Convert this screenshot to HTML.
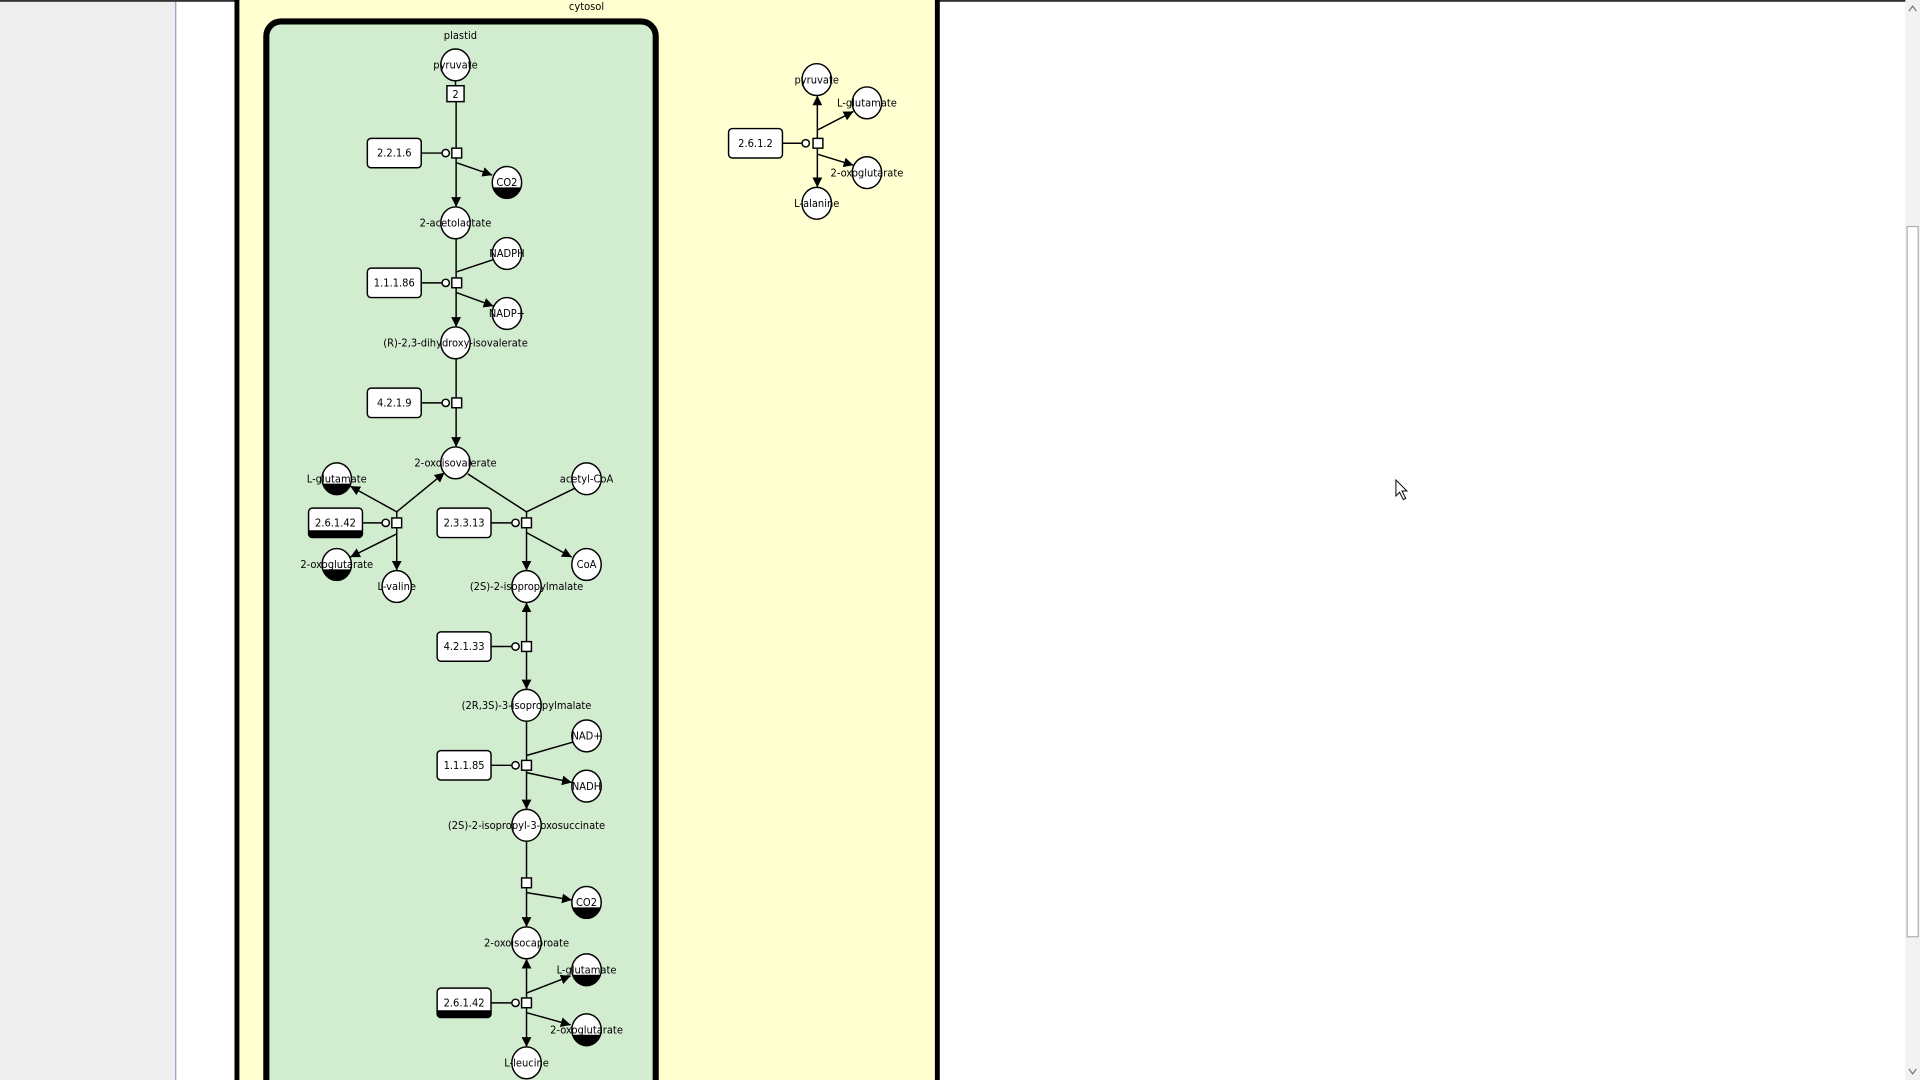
<!DOCTYPE html>
<html><head><meta charset="utf-8"><style>
html,body{margin:0;padding:0;width:1920px;height:1080px;overflow:hidden;background:#fff}
svg{display:block}
text{font-family:"DejaVu Sans Condensed","DejaVu Sans","Liberation Sans",sans-serif;font-size:9px;fill:#000}
</style></head><body>
<svg width="1920" height="1080" viewBox="0 0 1568 882" preserveAspectRatio="none" xmlns="http://www.w3.org/2000/svg">
<defs>
<marker id="a" viewBox="0 0 10 10" refX="10" refY="5" markerWidth="8" markerHeight="8" markerUnits="userSpaceOnUse" orient="auto"><path d="M0,0 L10,5 L0,10 Z" fill="#000"/></marker>
</defs>
<rect x="0" y="0" width="143" height="882" fill="#eeeeee"/>
<line x1="143.5" y1="0" x2="143.5" y2="882" stroke="#8aa0c0" stroke-width="1"/>
<rect x="0" y="0" width="1568" height="1.5" fill="#333"/>
<!-- scrollbar -->
<rect x="1556" y="0" width="12" height="882" fill="#f2f2f2"/>
<rect x="1557.5" y="185" width="9" height="580" fill="#fff" stroke="#b0b0b0" stroke-width="1"/>
<path d="M1559,9 L1562,5 L1565,9" fill="none" stroke="#777"/>
<path d="M1559,873 L1562,877 L1565,873" fill="none" stroke="#777"/>
<!-- cytosol -->
<rect x="193.5" y="-10" width="572" height="900" fill="#ffffd2" stroke="#000" stroke-width="4"/>
<text x="479" y="8" text-anchor="middle">cytosol</text>
<!-- plastid -->
<rect x="217.5" y="17.5" width="318" height="880" rx="12" fill="#d2ecd0" stroke="#000" stroke-width="5"/>
<text x="376" y="32" text-anchor="middle">plastid</text>

<g stroke="#000" stroke-width="1.2" fill="none">
<!-- R1 -->
<line x1="372" y1="66" x2="372" y2="70"/>
<line x1="372.5" y1="83" x2="372.5" y2="121"/>
<line x1="372.5" y1="129" x2="372.5" y2="169" marker-end="url(#a)"/>
<line x1="373" y1="133" x2="402" y2="143" marker-end="url(#a)"/>
<line x1="344" y1="125" x2="361" y2="125"/>
<!-- R2 -->
<line x1="372.5" y1="195" x2="372.5" y2="227"/>
<line x1="373" y1="222" x2="403" y2="212"/>
<line x1="372.5" y1="235" x2="372.5" y2="267" marker-end="url(#a)"/>
<line x1="373" y1="239" x2="403" y2="250" marker-end="url(#a)"/>
<line x1="344" y1="231" x2="361" y2="231"/>
<!-- R3 -->
<line x1="372.5" y1="293" x2="372.5" y2="325"/>
<line x1="372.5" y1="333" x2="372.5" y2="365" marker-end="url(#a)"/>
<line x1="344" y1="329" x2="361" y2="329"/>
<!-- R4 -->
<line x1="324" y1="423" x2="324" y2="418"/>
<line x1="324" y1="418" x2="363" y2="386" marker-end="url(#a)"/>
<line x1="324" y1="418" x2="286" y2="397" marker-end="url(#a)"/>
<line x1="324" y1="431" x2="324" y2="466" marker-end="url(#a)"/>
<line x1="324" y1="436" x2="286" y2="455" marker-end="url(#a)"/>
<line x1="296" y1="427" x2="312" y2="427"/>
<!-- R5 -->
<line x1="382" y1="387" x2="430" y2="418"/>
<line x1="469" y1="399" x2="430" y2="418"/>
<line x1="430" y1="418" x2="430" y2="423"/>
<line x1="430" y1="431" x2="430" y2="466" marker-end="url(#a)"/>
<line x1="430" y1="435" x2="467" y2="455" marker-end="url(#a)"/>
<line x1="401" y1="427" x2="418" y2="427"/>
<!-- R6 -->
<line x1="430" y1="524" x2="430" y2="492" marker-end="url(#a)"/>
<line x1="430" y1="532" x2="430" y2="563" marker-end="url(#a)"/>
<line x1="401" y1="528" x2="418" y2="528"/>
<!-- R7 -->
<line x1="430" y1="589" x2="430" y2="621"/>
<line x1="430" y1="617" x2="468" y2="606"/>
<line x1="430" y1="629" x2="430" y2="661" marker-end="url(#a)"/>
<line x1="430" y1="631" x2="467" y2="639" marker-end="url(#a)"/>
<line x1="401" y1="625" x2="418" y2="625"/>
<!-- R8 -->
<line x1="430" y1="687" x2="430" y2="717"/>
<line x1="430" y1="725" x2="430" y2="757" marker-end="url(#a)"/>
<line x1="430" y1="729" x2="467" y2="735" marker-end="url(#a)"/>
<!-- R9 -->
<line x1="430" y1="815" x2="430" y2="783" marker-end="url(#a)"/>
<line x1="430" y1="811" x2="466" y2="797" marker-end="url(#a)"/>
<line x1="430" y1="823" x2="430" y2="855" marker-end="url(#a)"/>
<line x1="430" y1="827" x2="466" y2="837" marker-end="url(#a)"/>
<line x1="401" y1="819" x2="418" y2="819"/>
<!-- cytosol R -->
<line x1="667.5" y1="113" x2="667.5" y2="78" marker-end="url(#a)"/>
<line x1="668" y1="106" x2="697" y2="91" marker-end="url(#a)"/>
<line x1="667.5" y1="121" x2="667.5" y2="153" marker-end="url(#a)"/>
<line x1="668" y1="126" x2="697" y2="135" marker-end="url(#a)"/>
<line x1="639" y1="117" x2="655" y2="117"/>
</g>

<!-- small circles and squares -->
<g stroke="#000" stroke-width="1.2" fill="#fff">
<circle cx="364" cy="125" r="3"/><rect x="369" y="121" width="8" height="8"/>
<circle cx="364" cy="231" r="3"/><rect x="369" y="227" width="8" height="8"/>
<circle cx="364" cy="329" r="3"/><rect x="369" y="325" width="8" height="8"/>
<circle cx="315" cy="427" r="3"/><rect x="320" y="423" width="8" height="8"/>
<circle cx="421" cy="427" r="3"/><rect x="426" y="423" width="8" height="8"/>
<circle cx="421" cy="528" r="3"/><rect x="426" y="524" width="8" height="8"/>
<circle cx="421" cy="625" r="3"/><rect x="426" y="621" width="8" height="8"/>
<rect x="426" y="717" width="8" height="8"/>
<circle cx="421" cy="819" r="3"/><rect x="426" y="815" width="8" height="8"/>
<circle cx="658" cy="117" r="3"/><rect x="664" y="113" width="8" height="8"/>
<rect x="365" y="70" width="14" height="13"/>
</g>
<text x="372" y="80" text-anchor="middle">2</text>

<!-- enzyme boxes -->
<g stroke="#000" stroke-width="1.2" fill="#fff">
<rect x="300" y="113" width="44" height="24" rx="3"/>
<rect x="300" y="219" width="44" height="24" rx="3"/>
<rect x="300" y="317" width="44" height="24" rx="3"/>
<rect x="252" y="415" width="44" height="24" rx="3"/>
<rect x="357" y="415" width="44" height="24" rx="3"/>
<rect x="357" y="516" width="44" height="24" rx="3"/>
<rect x="357" y="613" width="44" height="24" rx="3"/>
<rect x="357" y="807" width="44" height="24" rx="3"/>
<rect x="595" y="105" width="44" height="24" rx="3"/>
</g>
<path d="M252,433 H296 V436 Q296,439 293,439 H255 Q252,439 252,436 Z" fill="#000"/>
<path d="M357,825 H401 V828 Q401,831 398,831 H360 Q357,831 357,828 Z" fill="#000"/>
<g text-anchor="middle">
<text x="322" y="128">2.2.1.6</text>
<text x="322" y="234">1.1.1.86</text>
<text x="322" y="332">4.2.1.9</text>
<text x="274" y="430">2.6.1.42</text>
<text x="379" y="430">2.3.3.13</text>
<text x="379" y="531">4.2.1.33</text>
<text x="379" y="628">1.1.1.85</text>
<text x="379" y="822">2.6.1.42</text>
<text x="617" y="120">2.6.1.2</text>
</g>

<!-- metabolites -->
<g stroke="#000" stroke-width="1.2" fill="#fff">
<ellipse cx="372" cy="53" rx="12" ry="13"/>
<ellipse cx="414" cy="149" rx="12" ry="13"/>
<ellipse cx="372" cy="182" rx="12" ry="13"/>
<ellipse cx="414" cy="207" rx="12" ry="13"/>
<ellipse cx="414" cy="256" rx="12" ry="13"/>
<ellipse cx="372" cy="280" rx="12" ry="13"/>
<ellipse cx="372" cy="378" rx="12" ry="13"/>
<ellipse cx="275" cy="391" rx="12" ry="13"/>
<ellipse cx="275" cy="461" rx="12" ry="13"/>
<ellipse cx="324" cy="479" rx="12" ry="13"/>
<ellipse cx="479" cy="391" rx="12" ry="13"/>
<ellipse cx="479" cy="461" rx="12" ry="13"/>
<ellipse cx="430" cy="479" rx="12" ry="13"/>
<ellipse cx="430" cy="576" rx="12" ry="13"/>
<ellipse cx="479" cy="601" rx="12" ry="13"/>
<ellipse cx="479" cy="642" rx="12" ry="13"/>
<ellipse cx="430" cy="674" rx="12" ry="13"/>
<ellipse cx="479" cy="737" rx="12" ry="13"/>
<ellipse cx="430" cy="770" rx="12" ry="13"/>
<ellipse cx="479" cy="792" rx="12" ry="13"/>
<ellipse cx="479" cy="841" rx="12" ry="13"/>
<ellipse cx="430" cy="868" rx="12" ry="13"/>
<ellipse cx="667" cy="65" rx="12" ry="13"/>
<ellipse cx="708" cy="84" rx="12" ry="13"/>
<ellipse cx="708" cy="141" rx="12" ry="13"/>
<ellipse cx="667" cy="166" rx="12" ry="13"/>
</g>
<!-- black halves -->
<g fill="#000">
<path d="M402.7,153 A12,13 0 0 0 425.3,153 Z"/>
<path d="M263.7,395 A12,13 0 0 0 286.3,395 Z"/>
<path d="M263.7,465 A12,13 0 0 0 286.3,465 Z"/>
<path d="M467.7,741 A12,13 0 0 0 490.3,741 Z"/>
<path d="M467.7,796 A12,13 0 0 0 490.3,796 Z"/>
<path d="M467.7,845 A12,13 0 0 0 490.3,845 Z"/>
</g>
<g text-anchor="middle">
<text x="372" y="56">pyruvate</text>
<text x="414" y="152">CO2</text>
<text x="372" y="185">2-acetolactate</text>
<text x="414" y="210">NADPH</text>
<text x="414" y="259">NADP+</text>
<text x="372" y="283">(R)-2,3-dihydroxy-isovalerate</text>
<text x="372" y="381">2-oxoisovalerate</text>
<text x="275" y="394">L-glutamate</text>
<text x="275" y="464">2-oxoglutarate</text>
<text x="324" y="482">L-valine</text>
<text x="479" y="394">acetyl-CoA</text>
<text x="479" y="464">CoA</text>
<text x="430" y="482">(2S)-2-isopropylmalate</text>
<text x="430" y="579">(2R,3S)-3-isopropylmalate</text>
<text x="479" y="604">NAD+</text>
<text x="479" y="645">NADH</text>
<text x="430" y="677">(2S)-2-isopropyl-3-oxosuccinate</text>
<text x="479" y="740">CO2</text>
<text x="430" y="773">2-oxoisocaproate</text>
<text x="479" y="795">L-glutamate</text>
<text x="479" y="844">2-oxoglutarate</text>
<text x="430" y="871">L-leucine</text>
<text x="667" y="68">pyruvate</text>
<text x="708" y="87">L-glutamate</text>
<text x="708" y="144">2-oxoglutarate</text>
<text x="667" y="169">L-alanine</text>
</g>
<!-- cursor -->
<path d="M1140,392 L1140,405 L1143,402 L1146,408 L1148,407 L1145,401 L1149,401 Z" fill="#fff" stroke="#000" stroke-width="0.8"/>
</svg>
</body></html>
